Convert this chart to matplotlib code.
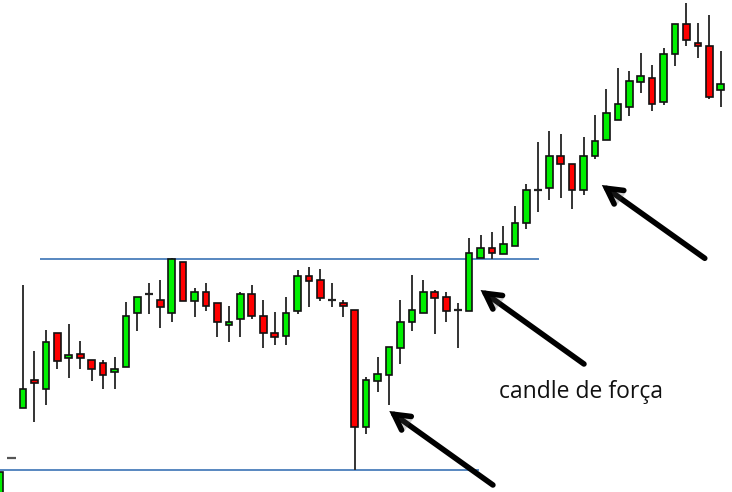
import matplotlib
matplotlib.use("Agg")
import matplotlib.pyplot as plt
import matplotlib.patheffects as pe
import numpy as np

# candle index (position along the time axis)
idx = list(range(-2, 62))

opens = [15, 62, 112, 140, 131, 187, 162, 166, 160, 157, 148, 153, 207, 226, 220, 207,
         258, 219, 228, 217, 195, 201, 226, 204, 187, 184, 209, 244, 240, 220, 217, 210,
         93, 139, 145, 172, 198, 207, 228, 223, 210, 209, 262, 272, 266, 274, 297, 330,
         332, 364, 356, 330, 364, 380, 400, 413, 438, 442, 418, 466, 496, 477, 474, 430]
highs = [48, 62, 235, 169, 190, 187, 196, 179, 160, 160, 163, 218, 223, 237, 240, 262,
         258, 232, 237, 217, 214, 228, 235, 220, 208, 223, 250, 253, 251, 237, 220, 210,
         143, 163, 173, 220, 245, 240, 230, 228, 217, 282, 285, 288, 294, 314, 336, 378,
         389, 386, 356, 383, 405, 431, 452, 449, 467, 455, 472, 496, 517, 497, 505, 469]
lows = [15, 62, 112, 98, 115, 151, 142, 151, 139, 131, 131, 153, 189, 206, 192, 198,
        219, 203, 209, 183, 178, 183, 201, 172, 175, 175, 206, 213, 219, 213, 203, 50,
        86, 128, 115, 156, 189, 207, 186, 198, 172, 209, 262, 261, 266, 274, 291, 308,
        320, 322, 311, 325, 361, 380, 400, 404, 427, 409, 415, 454, 474, 462, 421, 413]
closes = [48, 62, 131, 137, 178, 159, 165, 162, 151, 145, 151, 204, 223, 226, 213, 261,
          219, 228, 214, 198, 198, 226, 204, 187, 183, 207, 244, 239, 222, 220, 214, 93,
          140, 146, 173, 198, 210, 228, 222, 209, 210, 267, 272, 267, 276, 297, 330, 330,
          364, 356, 330, 364, 379, 407, 416, 439, 444, 416, 466, 496, 480, 474, 423, 436]

resistance = 261.3
support = 50.0
label_text = "candle de força"

fig = plt.figure(figsize=(7.32, 4.92), dpi=100)
ax = fig.add_axes([0, 0, 1, 1])
ax.set_xlim(-2.01, 61.98)
ax.set_ylim(28, 520)
ax.axis("off")

body_w = 0.58
for x, o, h, l, c in zip(idx, opens, highs, lows, closes):
    if o == c:
        col = "#555555" if h == l else "#222222"
        if h != l:
            ax.vlines(x, l, h, color="#333333", lw=1.4, zorder=1)
        ax.hlines(o, x - 0.36, x + 0.36, color=col, lw=1.6, zorder=3)
        continue
    ax.vlines(x, l, h, color="#333333", lw=1.4, zorder=1)
    color = "#00f000" if c > o else "#ff0000"
    ax.bar(x, abs(c - o), bottom=min(o, c), width=body_w, color=color,
           edgecolor="#111111", linewidth=1.2, zorder=2)

# horizontal levels
ax.hlines(resistance, 1.49, 45.1, color="#4a7ebb", lw=1.3, zorder=0)
ax.hlines(support, -2.01, 39.86, color="#4a7ebb", lw=1.3, zorder=0)

# arrows (tail -> head)
arrows = [((59.6, 261.7), (50.6, 335)),
          ((49.04, 156), (40.0, 230)),
          ((41.08, 35), (32.02, 109))]
for tail, head in arrows:
    ax.annotate("", xy=head, xytext=tail,
                arrowprops=dict(arrowstyle="->,head_length=1.1,head_width=0.6",
                                color="black", lw=4.0, shrinkA=0, shrinkB=0,
                                capstyle="round", joinstyle="miter",
                                path_effects=[pe.SimplePatchShadow(offset=(1.5, -1.5), alpha=0.25),
                                              pe.Normal()]),
                zorder=5)

t = ax.text(48.78, 128, label_text, ha="center", va="center",
            fontsize=15, family=["Open Sans", "DejaVu Sans"], color="#111111")
fig.canvas.draw()
w = t.get_window_extent().width
t.set_fontsize(15 * 164.0 / w)

fig.savefig("out.png", dpi=100)
